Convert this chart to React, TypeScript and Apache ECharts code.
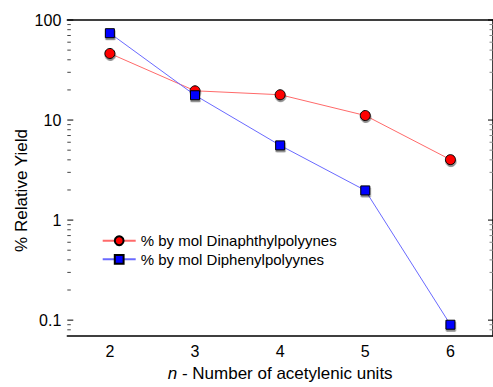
import React, { useEffect, useRef } from "react";
import * as echarts from "echarts";

const categories = ["2", "3", "4", "5", "6"];
const dinaphthyl = [46.3, 19.6, 17.9, 11.1, 4.02];
const diphenyl = [73.8, 17.7, 5.58, 1.98, 0.09];
const minorTickValues = [
  0.08, 0.09,
  0.2, 0.3, 0.4, 0.5, 0.6, 0.7, 0.8, 0.9,
  2, 3, 4, 5, 6, 7, 8, 9,
  20, 30, 40, 50, 60, 70, 80, 90,
];
const majorTickValues = [0.1, 1, 10, 100];
const yMin = 0.0694;
const yMax = 100;
const FONT = "'Liberation Sans', Arial, sans-serif";

export default function App() {
  const ref = useRef<HTMLDivElement>(null);
  useEffect(() => {
    if (!ref.current) return;
    const chart = echarts.init(ref.current, undefined, { renderer: "svg" });
    const grid = { left: 67.3, top: 20, width: 427.1, height: 318.3 };
    const markerStyle = (color: string) => ({
      color,
      borderColor: "#000",
      borderWidth: 1,
      shadowColor: "rgba(0,0,0,0.45)",
      shadowOffsetX: 0.5,
      shadowOffsetY: 2,
      shadowBlur: 1,
    });
    const tickData = [
      ...minorTickValues.map((v) => [0, v, 0]),
      ...majorTickValues.map((v) => [0, v, 1]),
    ];
    chart.setOption({
      animation: false,
      backgroundColor: "#fff",
      textStyle: { fontFamily: FONT },
      grid,
      legend: {
        orient: "vertical",
        left: 101.7,
        top: 233.2,
        padding: 0,
        itemWidth: 33,
        itemHeight: 11,
        itemGap: 3.6,
        data: ["% by mol Dinaphthylpolyynes", "% by mol Diphenylpolyynes"],
        textStyle: { fontSize: 15, lineHeight: 15, color: "#000", fontFamily: FONT },
      },
      xAxis: [
        {
          type: "category",
          data: categories,
          boundaryGap: true,
          position: "bottom",
          name: "{i|n} - Number of acetylenic units",
          nameLocation: "middle",
          nameGap: 29,
          nameTextStyle: {
            fontSize: 17,
            color: "#000",
            fontFamily: FONT,
            rich: { i: { fontStyle: "italic", fontSize: 17, color: "#000", fontFamily: FONT } },
          },
          axisLine: { lineStyle: { color: "#000", width: 1.5 } },
          axisTick: { inside: true, alignWithLabel: true, interval: 0, length: 5, lineStyle: { color: "#808080", width: 2 } },
          axisLabel: { fontSize: 16, color: "#000", margin: 7, fontFamily: FONT },
          splitLine: { show: false },
        },
        {
          type: "category",
          data: categories,
          boundaryGap: true,
          position: "top",
          axisLine: { lineStyle: { color: "#000", width: 1.5 } },
          axisTick: { inside: true, alignWithLabel: true, interval: 0, length: 5, lineStyle: { color: "#808080", width: 2 } },
          axisLabel: { show: false },
          splitLine: { show: false },
        },
      ],
      yAxis: [
        {
          type: "log",
          logBase: 10,
          min: yMin,
          max: yMax,
          position: "left",
          axisLine: { lineStyle: { color: "#808080", width: 2 } },
          axisTick: { show: false },
          axisLabel: {
            fontSize: 16,
            color: "#000",
            margin: 6,
            showMinLabel: false,
            fontFamily: FONT,
            formatter: (v: number) => String(+v.toPrecision(6)),
          },
          splitLine: { show: false },
          minorTick: { show: false },
        },
        {
          type: "log",
          logBase: 10,
          min: yMin,
          max: yMax,
          position: "right",
          axisLine: { show: true, lineStyle: { color: "#000", width: 1.5 } },
          axisTick: { show: false },
          axisLabel: { show: false },
          splitLine: { show: false },
        },
      ],
      graphic: [
        {
          type: "text",
          x: 21,
          y: 190.5,
          rotation: Math.PI / 2,
          style: {
            text: "% Relative Yield",
            fontSize: 17,
            fontFamily: FONT,
            fill: "#000",
            textAlign: "center",
            textVerticalAlign: "middle",
          },
        },
      ],
      series: [
        {
          type: "custom",
          name: "ticks",
          xAxisIndex: 0,
          yAxisIndex: 0,
          silent: true,
          clip: false,
          data: tickData,
          renderItem: (params: any, api: any) => {
            const cs = params.coordSys || {};
            const y = api.coord([0, api.value(1)])[1];
            const left = cs.x != null ? cs.x : grid.left;
            const right = cs.width != null ? cs.x + cs.width : grid.left + grid.width;
            const major = api.value(2) === 1;
            const lenL = major ? 6 : 3.5;
            const lenR = major ? 5 : 3.5;
            return {
              type: "group",
              children: [
                { type: "line", shape: { x1: left, y1: y, x2: left + lenL, y2: y }, style: { stroke: major ? "#000" : "#444", lineWidth: 1 } },
                { type: "line", shape: { x1: right - lenR, y1: y, x2: right, y2: y }, style: { stroke: major ? "#000" : "#888", lineWidth: 1 } },
              ],
            };
          },
          z: 5,
        },
        {
          type: "line",
          name: "% by mol Dinaphthylpolyynes",
          data: dinaphthyl,
          symbol: "circle",
          symbolSize: 10,
          lineStyle: { color: "#ff6a6a", width: 1 },
          itemStyle: markerStyle("#ff0000"),
          z: 3,
        },
        {
          type: "line",
          name: "% by mol Diphenylpolyynes",
          data: diphenyl,
          symbol: "rect",
          symbolSize: 9,
          lineStyle: { color: "#6a6aff", width: 1 },
          itemStyle: markerStyle("#0000ff"),
          z: 4,
        },
      ],
    });
    return () => chart.dispose();
  }, []);
  return <div ref={ref} style={{ position: "absolute", left: 0, top: 0, width: 493, height: 387 }} />;
}
